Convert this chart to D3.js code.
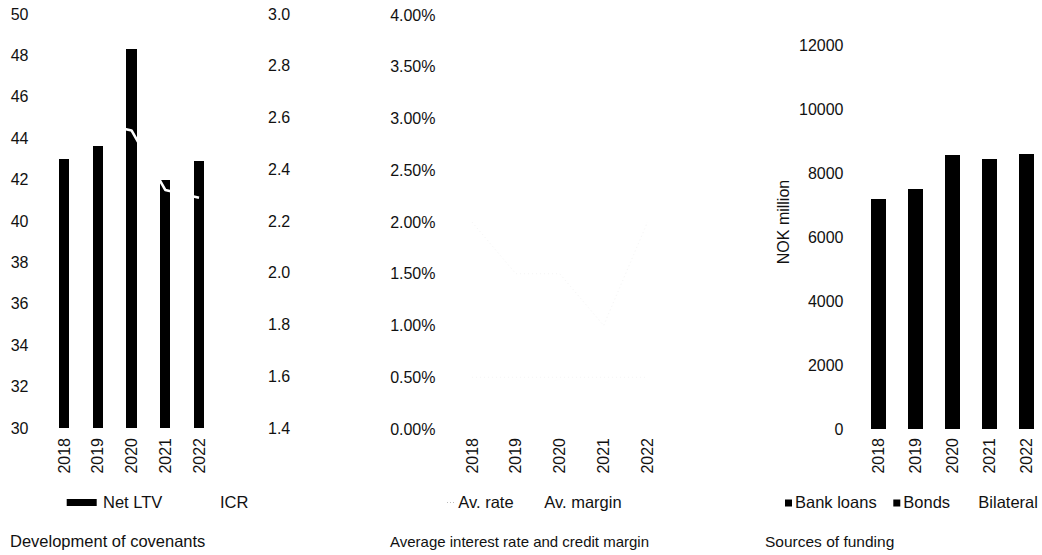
<!DOCTYPE html>
<html>
<head>
<meta charset="utf-8">
<script src="https://cdn.jsdelivr.net/npm/d3@7"></script>
<style>
  body { margin: 0; background: #fff; }
  svg { display: block; font-family: "Liberation Sans", Arial, sans-serif; }
  .tick text { font-size: 16px; fill: #111; }
  .lbl { fill: #111; }
  .bar { shape-rendering: crispEdges; }
</style>
</head>
<body>
<div id="container"></div>
<script>
// Data
const years = ['2018', '2019', '2020', '2021', '2022'];

// Development of covenants
const netLtv = [43.0, 43.6, 48.3, 42.0, 42.9];
const icr = [2.60, 2.58, 2.55, 2.32, 2.29];
const ltvTicks = [30, 32, 34, 36, 38, 40, 42, 44, 46, 48, 50];
const icrTicks = [1.4, 1.6, 1.8, 2.0, 2.2, 2.4, 2.6, 2.8, 3.0];

// Average interest rate and credit margin (lines are white in the source, barely visible)
const avRate = [0.020, 0.015, 0.015, 0.010, 0.020];
const avMargin = [0.005, 0.005, 0.005, 0.005, 0.005];
const rateTicks = [0, 0.005, 0.01, 0.015, 0.02, 0.025, 0.03, 0.035, 0.04];

// Sources of funding (NOK million)
const bankLoans = [1200, 1350, 1900, 420, 2570];
const bonds = [6000, 6150, 6650, 8010, 6030];
const bilateral = [1500, 1800, 2100, 2200, 2400];
const fundTicks = [0, 2000, 4000, 6000, 8000, 10000, 12000];

const width = 1042;
const height = 555;

const svg = d3.select('#container').append('svg')
    .attr('width', width)
    .attr('height', height);

// helper: axis with labels only (no lines)
function labelAxis(g, axis) {
    g.call(axis);
    g.select('.domain').remove();
    g.selectAll('.tick line').remove();
}

// rotated year labels under a band scale
function yearLabels(x, top) {
    svg.append('g').selectAll('text')
        .data(years)
        .enter()
        .append('text')
        .attr('class', 'lbl')
        .attr('transform', d => 'translate(' + (x(d) + x.bandwidth() / 2) + ',' + top + ') rotate(-90)')
        .attr('text-anchor', 'end')
        .attr('dy', '0.35em')
        .style('font-size', '16px')
        .text(d => d);
}

function addText(x, y, txt, size, anchor) {
    return svg.append('text')
        .attr('class', 'lbl')
        .attr('x', x)
        .attr('y', y)
        .attr('dy', '0.35em')
        .attr('text-anchor', anchor || 'start')
        .style('font-size', size + 'px')
        .text(txt);
}

//----- Panel 1: Development of covenants
const x1 = d3.scaleBand().domain(years).range([47.1, 215.9]).paddingInner(0.69).paddingOuter(0.345);
const yLtv = d3.scaleLinear().domain([30, 50]).range([428, 14]);
const yIcr = d3.scaleLinear().domain([1.4, 3.0]).range([428, 14]);

labelAxis(svg.append('g').attr('transform', 'translate(28.5,0)'),
    d3.axisLeft(yLtv).tickValues(ltvTicks).tickSize(0).tickPadding(0).tickFormat(d3.format('d')));
labelAxis(svg.append('g').attr('transform', 'translate(268,0)'),
    d3.axisRight(yIcr).tickValues(icrTicks).tickSize(0).tickPadding(0).tickFormat(d3.format('.1f')));

svg.append('g').selectAll('rect')
    .data(netLtv)
    .enter()
    .append('rect')
    .attr('class', 'bar')
    .attr('x', (d, i) => x1(years[i]))
    .attr('y', d => yLtv(d))
    .attr('width', x1.bandwidth())
    .attr('height', d => yLtv(30) - yLtv(d))
    .attr('fill', '#000');

svg.append('path')
    .datum(icr)
    .attr('fill', 'none')
    .attr('stroke', '#fff')
    .attr('stroke-width', 2.6)
    .attr('stroke-linejoin', 'round')
    .attr('d', d3.line()
        .x((d, i) => x1(years[i]) + x1.bandwidth() / 2)
        .y(d => yIcr(d)));

yearLabels(x1, 438);

svg.append('rect').attr('x', 66.7).attr('y', 499).attr('width', 30).attr('height', 7).attr('fill', '#000');
addText(103, 502.5, 'Net LTV', 16.5);
svg.append('line').attr('x1', 186).attr('x2', 214).attr('y1', 502.5).attr('y2', 502.5)
    .attr('stroke', '#fff').attr('stroke-width', 2.6);
addText(220, 502.5, 'ICR', 16.5);
addText(10, 541.5, 'Development of covenants', 16.5);

//----- Panel 2: Average interest rate and credit margin
const x2 = d3.scaleBand().domain(years).range([450, 669.5]);
const yRate = d3.scaleLinear().domain([0, 0.04]).range([429, 15]);

labelAxis(svg.append('g').attr('transform', 'translate(435.5,0)'),
    d3.axisLeft(yRate).tickValues(rateTicks).tickSize(0).tickPadding(0).tickFormat(d3.format('.2%')));

const rateLine = d3.line()
    .x((d, i) => x2(years[i]) + x2.bandwidth() / 2)
    .y(d => yRate(d));

[avRate, avMargin].forEach(series => {
    svg.append('path')
        .datum(series)
        .attr('fill', 'none')
        .attr('stroke', '#f4f4f4')
        .attr('stroke-width', 1)
        .attr('stroke-dasharray', '1,3')
        .attr('d', rateLine);
});

yearLabels(x2, 438);

svg.append('line').attr('x1', 447).attr('x2', 456).attr('y1', 502.5).attr('y2', 502.5)
    .attr('stroke', '#bbb').attr('stroke-width', 1).attr('stroke-dasharray', '1,2');
addText(458.3, 502.5, 'Av. rate', 16.5);
addText(544.3, 502.5, 'Av. margin', 16.5);
addText(390, 541.5, 'Average interest rate and credit margin', 15);

//----- Panel 3: Sources of funding
const x3 = d3.scaleBand().domain(years).range([860.25, 1044.75]).paddingInner(0.607).paddingOuter(0.3035);
const yFund = d3.scaleLinear().domain([0, 12000]).range([429, 45]);

labelAxis(svg.append('g').attr('transform', 'translate(843.5,0)'),
    d3.axisLeft(yFund).tickValues(fundTicks).tickSize(0).tickPadding(0).tickFormat(d3.format('d')));

const fundRows = years.map((y, i) => ({
    year: y,
    bank: bankLoans[i],
    bonds: bonds[i],
    bilateral: bilateral[i]
}));
const fundKeys = ['bank', 'bonds', 'bilateral'];
const fundColors = { bank: '#000', bonds: '#000', bilateral: '#fff' };
const stacked = d3.stack().keys(fundKeys)(fundRows);

svg.append('g').selectAll('g')
    .data(stacked)
    .enter()
    .append('g')
    .attr('fill', d => fundColors[d.key])
    .selectAll('rect')
    .data(d => d)
    .enter()
    .append('rect')
    .attr('class', 'bar')
    .attr('x', d => x3(d.data.year))
    .attr('y', d => yFund(d[1]))
    .attr('width', x3.bandwidth())
    .attr('height', d => yFund(d[0]) - yFund(d[1]));

yearLabels(x3, 438);

svg.append('text')
    .attr('class', 'lbl')
    .attr('transform', 'translate(783,222) rotate(-90)')
    .attr('text-anchor', 'middle')
    .attr('dy', '0.35em')
    .style('font-size', '16px')
    .text('NOK million');

svg.append('rect').attr('x', 785).attr('y', 499.5).attr('width', 7).attr('height', 7).attr('fill', '#000');
addText(795, 502.5, 'Bank loans', 16.5);
svg.append('rect').attr('x', 893.3).attr('y', 499.5).attr('width', 7).attr('height', 7).attr('fill', '#000');
addText(903.3, 502.5, 'Bonds', 16.5);
addText(978.3, 502.5, 'Bilateral', 16.5);
addText(765, 541.5, 'Sources of funding', 15.5);
</script>
</body>
</html>
